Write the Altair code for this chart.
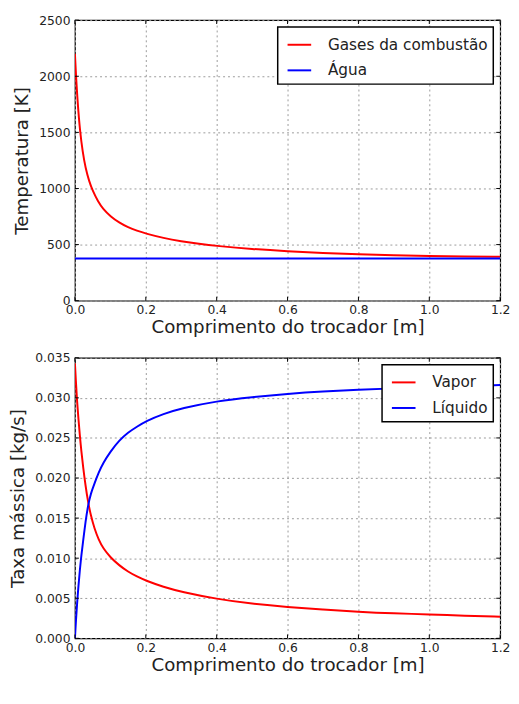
import altair as alt
import pandas as pd

# ---------------- data ----------------
gas_x = [0.0, 0.003, 0.008, 0.014, 0.022, 0.03, 0.04, 0.05, 0.065, 0.08, 0.1,
         0.125, 0.15, 0.175, 0.2, 0.25, 0.3, 0.35, 0.4, 0.5, 0.6, 0.7, 0.8, 0.9, 1.0, 1.1, 1.2]
gas_t = [2200, 2000, 1750, 1520, 1320, 1180, 1065, 980, 885, 815, 752,
         695, 653, 623, 598, 558, 529, 506, 488, 460, 440, 425, 414, 405, 398, 394, 391]
agua_x = [0.0, 1.2]
agua_t = [375, 375]

vapor_x = [0.0, 0.003, 0.006, 0.01, 0.014, 0.018, 0.023, 0.03, 0.037, 0.045, 0.055, 0.067,
           0.08, 0.1, 0.125, 0.15, 0.175, 0.2, 0.25, 0.3, 0.4, 0.5, 0.6, 0.7, 0.8, 0.9, 1.0, 1.1, 1.2]
vapor_m = [0.0343, 0.0318, 0.0296, 0.0273, 0.0252, 0.0234, 0.0214, 0.0190, 0.0170, 0.0153, 0.0137, 0.0123,
           0.0112, 0.0101, 0.0091, 0.0083, 0.0077, 0.0072, 0.0064, 0.0058, 0.0049, 0.0043, 0.0039,
           0.0036, 0.0033, 0.0031, 0.0030, 0.0028, 0.0027]
liq_x = [0.0, 0.003, 0.006, 0.01, 0.014, 0.018, 0.023, 0.03, 0.037, 0.045, 0.055, 0.067,
         0.08, 0.1, 0.125, 0.15, 0.175, 0.2, 0.25, 0.3, 0.4, 0.5, 0.6, 0.7, 0.8, 0.9, 1.0, 1.1, 1.2]
liq_m = [0.0, 0.0023, 0.0043, 0.0066, 0.0086, 0.0103, 0.0121, 0.0146, 0.0166, 0.0181, 0.0193, 0.0207,
         0.0219, 0.0233, 0.0247, 0.0257, 0.0264, 0.0271, 0.0280, 0.0287, 0.0296, 0.0301, 0.0305,
         0.0308, 0.0310, 0.0312, 0.0313, 0.0314, 0.0316]

top_series = ["Gases da combustão", "Água"]
bot_series = ["Vapor", "Líquido"]
x_ticks = [0.0, 0.2, 0.4, 0.6, 0.8, 1.0, 1.2]
top_y_ticks = [0, 500, 1000, 1500, 2000, 2500]
bot_y_ticks = [0.000, 0.005, 0.010, 0.015, 0.020, 0.025, 0.030, 0.035]
x_title = "Comprimento do trocador [m]"

df_top = pd.concat([
    pd.DataFrame({"x": gas_x, "y": gas_t, "serie": top_series[0]}),
    pd.DataFrame({"x": agua_x, "y": agua_t, "serie": top_series[1]}),
], ignore_index=True)
df_bot = pd.concat([
    pd.DataFrame({"x": vapor_x, "y": vapor_m, "serie": bot_series[0]}),
    pd.DataFrame({"x": liq_x, "y": liq_m, "serie": bot_series[1]}),
], ignore_index=True)

FONT = "DejaVu Sans"
COLORS = ["#ff0000", "#0000ff"]
X_MIN, X_MAX = 0.0, 1.2


def panel(df, order, ydomain, yticks, yfmt, ytitle, w, h):
    xs = alt.Scale(domain=[X_MIN, X_MAX], nice=False, zero=False)
    ys = alt.Scale(domain=ydomain, nice=False, zero=False)
    xax = alt.Axis(orient="bottom", values=x_ticks, format=".1f", title=x_title,
                   ticks=False, domain=False, grid=True, labelPadding=3, titlePadding=2)
    yax = alt.Axis(orient="left", values=yticks, format=yfmt, title=ytitle,
                   ticks=False, domain=False, grid=True, labelPadding=5, titlePadding=7)
    main = alt.Chart(df).mark_line(strokeWidth=2, interpolate="basis", clip=True).encode(
        x=alt.X("x:Q", scale=xs, axis=xax),
        y=alt.Y("y:Q", scale=ys, axis=yax),
        color=alt.Color("serie:N", sort=order,
                        scale=alt.Scale(domain=order, range=COLORS)),
    )
    xt = pd.DataFrame({"x": x_ticks})
    yt = pd.DataFrame({"y": yticks})
    ts = dict(size=4, thickness=1, color="black", opacity=1)
    # inward tick marks on all four sides
    left = alt.Chart(yt).mark_tick(orient="horizontal", xOffset=2, **ts).encode(
        y=alt.Y("y:Q", scale=ys, axis=yax), x=alt.XDatum(X_MIN, scale=xs, axis=xax))
    right = alt.Chart(yt).mark_tick(orient="horizontal", xOffset=-2, **ts).encode(
        y=alt.Y("y:Q", scale=ys, axis=yax), x=alt.XDatum(X_MAX, scale=xs, axis=xax))
    bottom = alt.Chart(xt).mark_tick(orient="vertical", yOffset=-2, **ts).encode(
        x=alt.X("x:Q", scale=xs, axis=xax), y=alt.YDatum(ydomain[0], scale=ys, axis=yax))
    top = alt.Chart(xt).mark_tick(orient="vertical", yOffset=2, **ts).encode(
        x=alt.X("x:Q", scale=xs, axis=xax), y=alt.YDatum(ydomain[1], scale=ys, axis=yax))
    return alt.layer(main, left, right, bottom, top).properties(width=w, height=h)


top = panel(df_top, top_series, [0, 2500], top_y_ticks, "d", "Temperatura [K]", 432, 285)
bot = panel(df_bot, bot_series, [0, 0.035], bot_y_ticks, ".3f", "Taxa mássica [kg/s]", 432, 285)

chart = alt.vconcat(top, bot, spacing=14).resolve_scale(color="independent").properties(
    padding={"left": 0, "top": 0, "right": 0, "bottom": 0}
).configure_view(
    stroke="black", strokeWidth=1.2
).configure_axis(
    labelFont=FONT, labelFontSize=12.5, labelColor="#222222",
    titleFont=FONT, titleFontSize=18.5, titleFontWeight="normal", titleColor="#222222",
    gridColor="#9a9a9a", gridDash=[2, 3], gridWidth=1, gridOpacity=1,
    labelFlush=False, labelOverlap=False,
).configure_legend(
    title=None, orient="top-right", offset=7, strokeColor="black", strokeWidth=1.5,
    fillColor="white", padding=5, symbolOffset=4, symbolType="stroke", symbolSize=576,
    symbolStrokeWidth=2, labelFont=FONT, labelFontSize=15.5, labelColor="#222222",
    labelOffset=16, rowPadding=4, cornerRadius=0, labelLimit=400,
)

chart.save("out.html", embed_options={"renderer": "svg", "actions": False})
